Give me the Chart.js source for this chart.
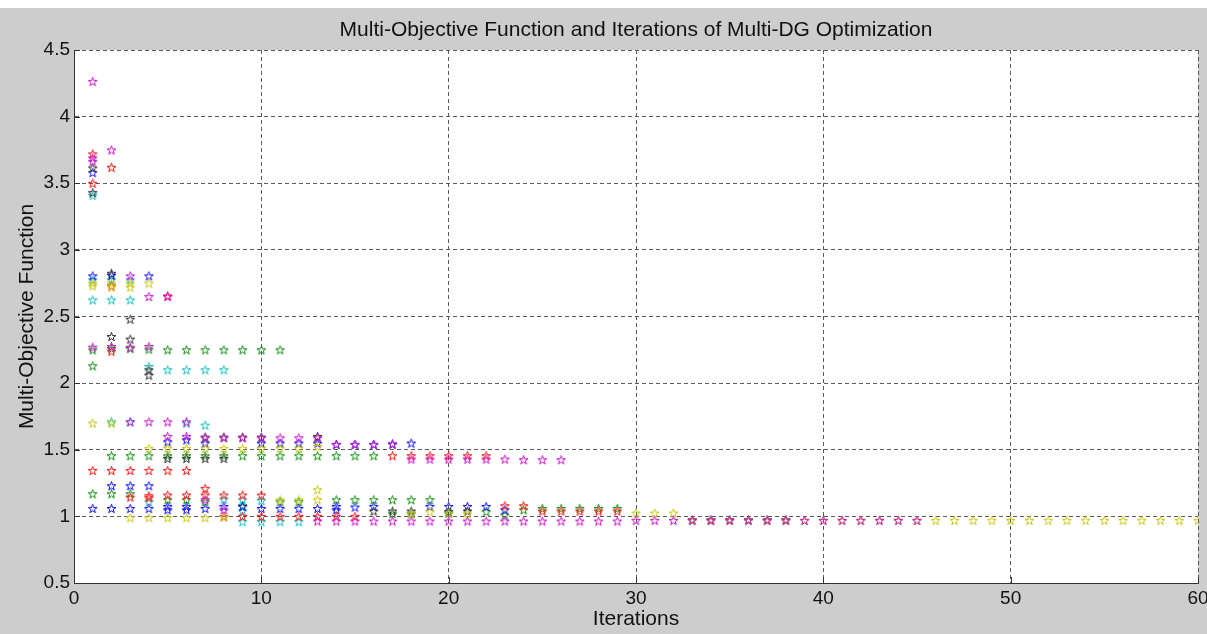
<!DOCTYPE html>
<html>
<head>
<meta charset="utf-8">
<script src="https://cdn.jsdelivr.net/npm/chart.js@4.4.0/dist/chart.umd.min.js"></script>
<style>
  html, body { margin: 0; padding: 0; background: #cdcdcd; }
  #wrap { width: 1207px; height: 634px; }
</style>
</head>
<body>
<div id="wrap"><canvas id="chart" width="1207" height="634"></canvas></div>
<script>
// values, one pair of arrays per marker colour
const magentaIter = [1, 1, 1, 2, 3, 4, 5, 1, 2, 3, 4, 3, 4, 5, 6,
  5, 6, 7, 8, 9, 10, 11, 12, 13, 14, 15, 16, 17,
  18, 19, 20, 21, 22, 23, 24, 25, 26, 7, 8,
  13, 14, 15, 16, 17, 18, 19, 20, 21, 22, 23, 24, 25, 26, 27, 28, 29,
  30, 31, 32, 33, 34, 35, 36, 37, 38, 39, 40, 41, 42, 43, 44, 45];
const magentaVal = [4.265, 3.69, 3.665, 3.75, 2.805, 2.65, 2.65, 2.27, 2.275, 2.27, 2.275, 1.71, 1.71, 1.71, 1.71,
  1.60, 1.60, 1.59, 1.59, 1.59, 1.59, 1.59, 1.59, 1.59, 1.54, 1.54, 1.54, 1.54,
  1.43, 1.43, 1.43, 1.43, 1.43, 1.43, 1.425, 1.425, 1.425, 1.125, 1.05,
  0.965, 0.965, 0.965, 0.965, 0.965, 0.965, 0.965, 0.965, 0.965, 0.965, 0.965, 0.965, 0.965, 0.965, 0.965, 0.965, 0.965,
  0.97, 0.97, 0.97, 0.97, 0.97, 0.97, 0.97, 0.97, 0.97, 0.97, 0.97, 0.97, 0.97, 0.97, 0.97, 0.97];

const yellowIter = [1, 1, 2, 2, 3, 3, 4, 1, 2,
  4, 5, 6, 7, 8, 9, 10, 11, 12, 13,
  3, 4, 5, 6, 7, 8, 11, 12, 13, 13, 18, 19, 20, 21, 30, 31, 32,
  33, 34, 35, 36, 37, 38, 39, 40, 41, 42, 43, 44, 45, 46,
  47, 48, 49, 50, 51, 52, 53, 54, 55, 56, 57, 58, 59, 60];
const yellowVal = [2.75, 2.73, 2.75, 2.72, 2.75, 2.72, 2.75, 1.70, 1.70,
  1.51, 1.51, 1.51, 1.51, 1.51, 1.51, 1.51, 1.51, 1.51, 1.525,
  0.99, 0.99, 0.99, 0.99, 0.99, 0.995, 1.125, 1.125, 1.2, 1.125, 1.02, 1.035, 1.025, 1.02, 1.025, 1.025, 1.025,
  0.97, 0.97, 0.97, 0.97, 0.97, 0.97, 0.97, 0.97, 0.97, 0.97, 0.97, 0.97, 0.97, 0.97,
  0.97, 0.97, 0.97, 0.97, 0.97, 0.97, 0.97, 0.97, 0.97, 0.97, 0.97, 0.97, 0.97, 0.97];

const blackIter = [1, 1, 2, 2, 3, 3, 4, 4, 5, 6, 7, 8, 7, 8, 9, 10, 13,
  16, 17, 18, 20, 21, 33, 34, 35, 36, 37, 38];
const blackVal = [3.615, 3.43, 2.825, 2.35, 2.48, 2.33, 2.10, 2.06, 1.435, 1.435, 1.435, 1.435, 1.595, 1.595, 1.595, 1.595, 1.60,
  1.04, 1.04, 1.04, 1.035, 1.04, 0.975, 0.975, 0.975, 0.975, 0.975, 0.975];

const redIter = [1, 1, 2, 2, 2, 5,
  1, 2, 3, 4, 5, 6, 17, 18, 19, 20, 21, 22,
  3, 4, 4, 5, 6, 7, 7, 8, 9, 10,
  8, 9, 10, 11, 12, 13, 14, 15,
  23, 24, 25, 26, 27, 28, 29];
const redVal = [3.72, 3.50, 3.62, 2.24, 2.73, 2.655,
  1.345, 1.345, 1.345, 1.345, 1.345, 1.345, 1.455, 1.455, 1.455, 1.455, 1.455, 1.455,
  1.145, 1.155, 1.14, 1.16, 1.16, 1.21, 1.16, 1.16, 1.16, 1.16,
  1.0, 1.0, 1.0, 1.0, 1.0, 1.0, 1.0, 1.0,
  1.08, 1.08, 1.04, 1.04, 1.04, 1.04, 1.04];

const blueIter = [1, 1, 2, 4,
  5, 6, 7, 10, 11, 12, 13, 14, 15, 16, 17, 18,
  1, 2, 3, 4, 2, 3, 4,
  5, 5, 6, 6, 7, 8, 9, 10, 11, 12, 13, 14, 14, 15, 16, 19, 20, 21, 22, 23];
const blueVal = [3.58, 2.805, 2.81, 2.805,
  1.56, 1.575, 1.55, 1.55, 1.55, 1.55, 1.55, 1.54, 1.54, 1.54, 1.545, 1.55,
  1.06, 1.06, 1.06, 1.06, 1.23, 1.23, 1.23,
  1.075, 1.05, 1.075, 1.05, 1.06, 1.075, 1.075, 1.06, 1.06, 1.06, 1.06, 1.075, 1.05, 1.07, 1.075, 1.075, 1.075, 1.075, 1.075, 1.05];

const greenIter = [1, 2, 3, 4, 5, 6, 7, 8, 9, 10, 11, 1,
  2, 3, 4, 5, 6, 7, 8, 9, 10, 11, 12, 13, 14, 15, 16,
  1, 2, 3, 5, 6, 7, 9, 11, 12, 14, 15, 16, 17, 18, 19,
  17, 18, 20, 22, 23, 24, 25, 26, 27, 28, 29];
const greenVal = [2.25, 2.26, 2.26, 2.255, 2.25, 2.25, 2.25, 2.25, 2.25, 2.25, 2.25, 2.13,
  1.455, 1.455, 1.455, 1.455, 1.455, 1.455, 1.455, 1.455, 1.455, 1.455, 1.455, 1.455, 1.455, 1.455, 1.455,
  1.17, 1.17, 1.17, 1.125, 1.125, 1.11, 1.08, 1.11, 1.11, 1.125, 1.125, 1.125, 1.125, 1.125, 1.125,
  1.02, 1.02, 1.025, 1.035, 1.01, 1.05, 1.06, 1.06, 1.06, 1.06, 1.06];

const cyanIter = [1, 1, 2, 3, 1, 2, 3, 4, 5, 6, 7, 8,
  2, 3, 6, 7, 4, 8, 9, 10, 9, 9, 10, 11, 12];
const cyanVal = [3.41, 2.775, 2.775, 2.775, 2.625, 2.625, 2.625, 2.125, 2.10, 2.10, 2.10, 2.10,
  1.71, 1.71, 1.70, 1.685, 1.11, 1.13, 1.125, 1.12, 1.04, 0.96, 0.96, 0.96, 0.96];

const xTickLabels = ['0', '10', '20', '30', '40', '50', '60'];
const yTickLabels = ['0.5', '1', '1.5', '2', '2.5', '3', '3.5', '4', '4.5'];

const chartTitle = 'Multi-Objective Function and Iterations of Multi-DG Optimization';
const FONT = '"Liberation Sans", Arial, sans-serif';

// hollow pentagram, like matlab's 'p' marker
function starImage(color) {
  const c = document.createElement('canvas');
  c.width = 13; c.height = 13;
  const g = c.getContext('2d');
  const R = 4.7, r = R * 0.382;
  g.beginPath();
  for (let i = 0; i < 10; i++) {
    const a = -Math.PI / 2 + i * Math.PI / 5;
    const rad = i % 2 ? r : R;
    const px = 6.5 + rad * Math.cos(a), py = 7 + rad * Math.sin(a);
    if (i) g.lineTo(px, py); else g.moveTo(px, py);
  }
  g.closePath();
  g.strokeStyle = color;
  g.lineWidth = 1;
  g.stroke();
  return c;
}

function makeSet(iters, vals, color) {
  return {
    data: iters.map((x, i) => ({ x: x, y: vals[i] })),
    pointStyle: starImage(color),
    showLine: false
  };
}

const figureBg = {
  id: 'figureBg',
  beforeDraw(chart) {
    const { ctx, chartArea: a } = chart;
    ctx.save();
    ctx.fillStyle = '#cdcdcd';
    ctx.fillRect(0, 0, chart.width, chart.height);
    ctx.fillStyle = '#ffffff';
    ctx.fillRect(0, 0, chart.width, 8);
    ctx.fillRect(a.left, a.top, a.right - a.left, a.bottom - a.top);
    ctx.fillStyle = '#111';
    ctx.font = '21px ' + FONT;
    ctx.textAlign = 'center';
    ctx.textBaseline = 'middle';
    ctx.fillText(chartTitle, (a.left + a.right) / 2, 30);
    ctx.restore();
  }
};

// short inward tick marks on the left and bottom axes
const innerTicks = {
  id: 'innerTicks',
  afterDraw(chart) {
    const { ctx, chartArea: a, scales } = chart;
    ctx.save();
    ctx.strokeStyle = '#333';
    ctx.lineWidth = 1;
    ctx.beginPath();
    scales.x.ticks.forEach(t => {
      const px = Math.round(scales.x.getPixelForValue(t.value)) + 0.5;
      ctx.moveTo(px, a.bottom); ctx.lineTo(px, a.bottom - 6);
    });
    scales.y.ticks.forEach(t => {
      const py = Math.round(scales.y.getPixelForValue(t.value)) + 0.5;
      ctx.moveTo(a.left, py); ctx.lineTo(a.left + 6, py);
    });
    ctx.stroke();
    ctx.restore();
  }
};

const gridStyle = { color: '#5a5a5a', lineWidth: 1, drawTicks: false };

new Chart(document.getElementById('chart'), {
  type: 'scatter',
  data: {
    datasets: [
      makeSet(magentaIter, magentaVal, '#cc10cc'),
      makeSet(yellowIter, yellowVal, '#c8c810'),
      makeSet(blackIter, blackVal, '#303030'),
      makeSet(redIter, redVal, '#ff1010'),
      makeSet(blueIter, blueVal, '#1010ff'),
      makeSet(greenIter, greenVal, '#109010'),
      makeSet(cyanIter, cyanVal, '#10c0c0')
    ]
  },
  options: {
    responsive: false,
    devicePixelRatio: 1,
    animation: false,
    layout: { padding: { top: 50, right: 9, left: 0, bottom: 0 } },
    plugins: {
      legend: { display: false },
      tooltip: { enabled: false },
      title: { display: false }
    },
    scales: {
      x: {
        type: 'linear',
        min: 0, max: 60,
        grid: gridStyle,
        border: { display: true, color: '#333', width: 1, dash: [4, 3] },
        ticks: {
          stepSize: 10, autoSkip: false, maxRotation: 0, padding: 4,
          color: '#111', font: { family: FONT, size: 19 },
          callback: (v, i) => xTickLabels[i]
        },
        title: {
          display: true, text: 'Iterations', color: '#111',
          font: { family: FONT, size: 21 }, padding: { top: 0, bottom: 2 }
        },
        afterFit(s) { s.height = 51; s.paddingRight = 0; s.paddingLeft = 0; }
      },
      y: {
        min: 0.5, max: 4.5,
        grid: gridStyle,
        border: { display: true, color: '#333', width: 1, dash: [4, 3] },
        ticks: {
          stepSize: 0.5, autoSkip: false, padding: 4,
          color: '#111', font: { family: FONT, size: 19 },
          callback: (v, i) => yTickLabels[i]
        },
        title: {
          display: true, text: 'Multi-Objective Function', color: '#111',
          font: { family: FONT, size: 21 }, padding: { top: 15, bottom: 0 }
        },
        afterFit(s) { s.width = 74; s.paddingTop = 0; s.paddingBottom = 0; }
      }
    }
  },
  plugins: [figureBg, innerTicks]
});
</script>
</body>
</html>
